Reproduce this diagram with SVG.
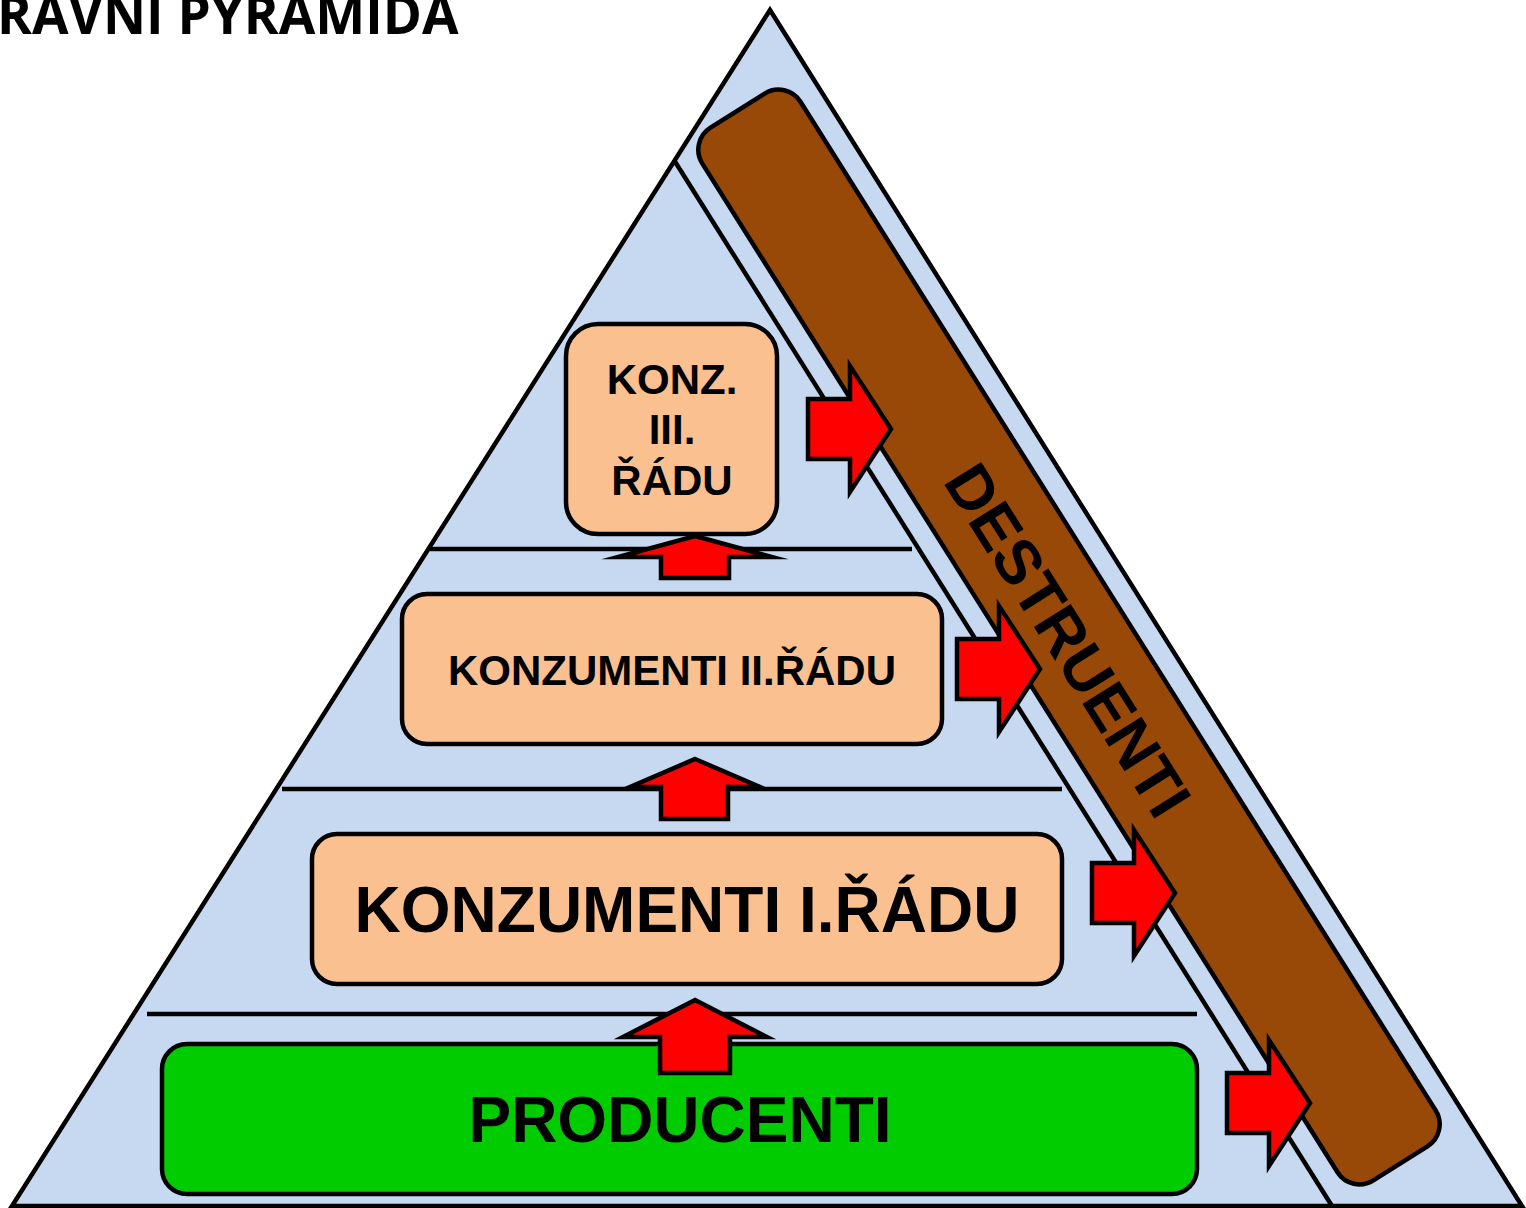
<svg xmlns="http://www.w3.org/2000/svg" width="1526" height="1208" viewBox="0 0 1526 1208">
<defs>
<style>
.ln{stroke:#000;stroke-width:4.5;fill:none}
.box{stroke:#000;stroke-width:4.5;fill:#FAC090}
.arr{fill:#FF0000;stroke:#000;stroke-width:4.5;stroke-linejoin:miter;stroke-miterlimit:10}
.t{font-family:"Liberation Sans",Arial,sans-serif;font-weight:bold;fill:#000;text-anchor:middle}
</style>
</defs>
<rect width="1526" height="1208" fill="#FFFFFF"/>
<text x="-3" y="34" style="font-family:'Open Sans','Liberation Sans',sans-serif;font-weight:bold;font-size:53px" fill="#000">RAVNI PYRAMIDA</text>
<g id="pyramid">
<polygon points="770,10 12,1206 1522,1206" fill="#C6D9F1" stroke="#000" stroke-width="4.5" stroke-linejoin="miter"/>
<line class="ln" x1="674" y1="160" x2="1332" y2="1206"/>
<line class="ln" x1="430" y1="549" x2="912" y2="549"/>
<line class="ln" x1="282" y1="789" x2="1062" y2="789"/>
<line class="ln" x1="147" y1="1014" x2="1197" y2="1014"/>
</g>
<g id="destruenti">
<rect x="-622" y="-58" width="1244" height="116" rx="26" fill="#984807" stroke="#000" stroke-width="4.5" transform="translate(1069,637) rotate(57.8)"/>
<text class="t" style="font-size:63px" x="0" y="22" transform="translate(1068,640) rotate(57.8)">DESTRUENTI</text>
</g>
<g id="konz3">
<rect class="box" x="566" y="324" width="211" height="210" rx="32"/>
<text class="t" style="font-size:42px" x="672" y="394">KONZ.</text>
<text class="t" style="font-size:42px" x="672" y="444">III.</text>
<text class="t" style="font-size:42px" x="672" y="495">ŘÁDU</text>
</g>
<g id="konz2">
<rect class="box" x="402" y="594" width="540" height="150" rx="25"/>
<text class="t" style="font-size:42px" x="672" y="685">KONZUMENTI II.ŘÁDU</text>
</g>
<g id="konz1">
<rect class="box" x="312" y="834" width="750" height="150" rx="25"/>
<text class="t" style="font-size:64px" x="687" y="932">KONZUMENTI I.ŘÁDU</text>
</g>
<g id="producenti">
<rect x="162" y="1044" width="1035" height="150" rx="25" fill="#00CC00" stroke="#000" stroke-width="4.5"/>
<text class="t" style="font-size:64px" x="680" y="1142">PRODUCENTI</text>
</g>
<g id="connectors">
<polygon class="arr" points="695,536 772,557 729,557 729,578 661,578 661,557 618,557"/>
<polygon class="arr" points="695,759 760,787 728,787 728,819 661,819 661,787 630,787"/>
<polygon class="arr" points="695,1000 767,1037 730,1037 730,1073 660,1073 660,1037 623,1037"/>
<path class="arr" d="M808,399 H850 V366 L891,429 L850,492 V459 H808 Z"/>
<path class="arr" d="M957,639 H999 V606 L1040,669 L999,732 V699 H957 Z"/>
<path class="arr" d="M1092,863 H1134 V830 L1175,893 L1134,956 V923 H1092 Z"/>
<path class="arr" d="M1227,1073 H1269 V1040 L1310,1103 L1269,1166 V1133 H1227 Z"/>
</g>
</svg>
